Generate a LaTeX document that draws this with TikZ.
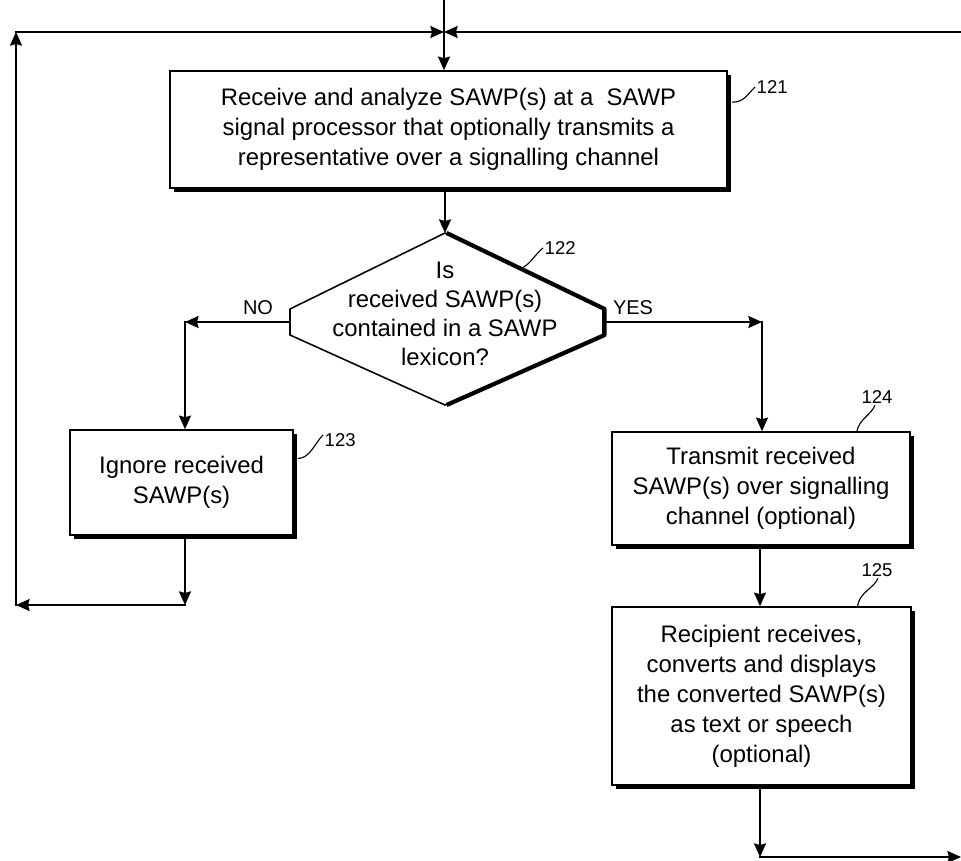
\documentclass[tikz,border=0pt]{standalone}
\usepackage{fontspec}
\setmainfont{Liberation Sans}
\usetikzlibrary{arrows.meta, positioning, calc, shadows}

\tikzset{
  stepbox/.style={draw, line width=1.1pt, fill=white, align=center, inner sep=0pt,
    font=\fontsize{17}{21.3}\selectfont,
    drop shadow={shadow xshift=0.09cm, shadow yshift=-0.09cm, fill=black, opacity=1}},
  flow/.style={line width=1.4pt, line cap=rect, -{Stealth[length=3.4mm, width=3mm, inset=0.4mm]}},
  plain/.style={line width=1.4pt, line cap=rect},
  lead/.style={line width=0.8pt},
  refnum/.style={font=\fontsize{13.2}{16}\selectfont, inner sep=1pt},
  branch/.style={font=\fontsize{14.2}{16}\selectfont, inner sep=0pt},
}

\begin{document}
\begin{tikzpicture}[x=0.025cm, y=-0.025cm]
    \useasboundingbox (0,0) rectangle (961,861);

    % Steps
    \node[stepbox, minimum width=13.925cm, minimum height=2.925cm] (b121) at (448.5,129.5)
        {Receive and analyze SAWP(s) at a\ \ SAWP\\signal processor that optionally transmits a\\representative over a signalling channel};
    \node[stepbox, minimum width=5.575cm, minimum height=2.625cm] (b123) at (181.5,482.5)
        {Ignore received\\SAWP(s)};
    \node[stepbox, minimum width=7.45cm, minimum height=2.825cm] (b124) at (761,488.5)
        {Transmit received\\SAWP(s) over signalling\\channel (optional)};
    \node[stepbox, minimum width=7.475cm, minimum height=4.45cm] (b125) at (761.5,696)
        {Recipient receives,\\converts and displays\\the converted SAWP(s)\\as text or speech\\(optional)};

    % Decision 122
    \coordinate (dtop) at (445,233);
    \coordinate (dbot) at (445,405);
    \coordinate (dlu) at (290,309);
    \coordinate (dll) at (290,335);
    \coordinate (dru) at (603,309);
    \coordinate (drl) at (603,335);
    \coordinate (dleft) at (290,322);
    \coordinate (dright) at (603,322);
    \draw[line width=1.1pt, fill=white] (dtop) -- (dru) -- (drl) -- (dbot) -- (dll) -- (dlu) -- cycle;
    \draw[line width=3pt, line join=round] ([xshift=0.04cm]dtop) -- ([xshift=0.04cm]dru)
        -- ([xshift=0.04cm]drl) -- ([xshift=0.04cm]dbot);
    \node[align=center, font=\fontsize{17}{20.6}\selectfont, inner sep=0pt] (q122) at (445,314)
        {Is\\received SAWP(s)\\contained in a SAWP\\lexicon?};

    % Route points
    \coordinate (entry) at (444,0);
    \coordinate (join) at (444,32);
    \coordinate (loopul) at (16,32);
    \coordinate (loopll) at (16,605);
    \coordinate (ignend) at (185,605);
    \coordinate (rtop) at (961,32);
    \coordinate (nocorner) at (185,322);
    \coordinate (yescorner) at (762,322);
    \coordinate (outbot) at (760,857);
    \coordinate (outright) at (961,857);

    % Connectors
    \draw[plain] (entry) -- (join);
    \draw[flow] (join) -- (join |- b121.north);
    \draw[flow] (loopul) -- (join);
    \draw[flow] (rtop) -- (join);
    \draw[flow] (b121.south -| dtop) -- (dtop);
    \draw[flow] (dleft) -- (nocorner);
    \draw[flow] (nocorner) -- (nocorner |- b123.north);
    \draw[flow] (dright) -- (yescorner);
    \draw[flow] (yescorner) -- (yescorner |- b124.north);
    \draw[flow] (b123.south -| ignend) -- (ignend);
    \draw[flow] (ignend) -- (loopll);
    \draw[flow] (loopll) -- (loopul);
    \draw[flow] (b124.south -| outbot) -- (b125.north -| outbot);
    \draw[flow] (b125.south -| outbot) -- (outbot);
    \draw[flow] (outbot) -- (outright);

    % Branch labels
    \node[branch] (lno) at (258,308) {NO};
    \node[branch] (lyes) at (633,308) {YES};

    % Reference numerals
    \node[refnum, anchor=west] (n121) at (755,87) {121};
    \node[refnum, anchor=west] (n122) at (543,248) {122};
    \node[refnum, anchor=west] (n123) at (323,440) {123};
    \node[refnum] (n124) at (877,397) {124};
    \node[refnum] (n125) at (877,570) {125};
    \coordinate (e122) at ($(dtop)!0.47!(dru)$);
    \draw[lead] ($(b121.north east)+(4,32)$) .. controls +(12,0) and +(-8,8) .. (n121.west);
    \draw[lead] (e122) .. controls +(10,-2) and +(-8,6) .. (n122.west);
    \draw[lead] ($(b123.east)+(4,-24)$) .. controls +(12,0) and +(-8,8) .. ($(n123.west)+(0,-5)$);
    \draw[lead] ($(b124.north)+(96,0)$) .. controls +(2,-12) and +(-4,10) .. ($(n124.south)+(-2,0)$);
    \draw[lead] ($(b125.north)+(96,0)$) .. controls +(2,-14) and +(-4,10) .. ($(n125.south)+(1,0)$);

\end{tikzpicture}
\end{document}
